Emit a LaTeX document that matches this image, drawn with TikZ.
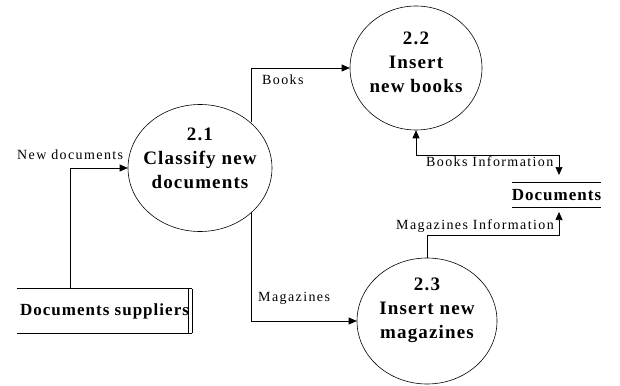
\documentclass[tikz,border=0pt]{standalone}
\usepackage{fontspec}
\setmainfont{Liberation Serif}
\newfontfamily\procfont[LetterSpace=6]{Liberation Serif}
\newfontfamily\lblfont[LetterSpace=10]{Liberation Serif}
\usetikzlibrary{arrows.meta,shapes.geometric}
\tikzset{
  proc/.style={draw, ellipse, inner sep=0pt, line width=0.6pt},
  ptext/.style={align=center, font=\procfont\bfseries\fontsize{19}{24}\selectfont, inner sep=0pt},
  lbl/.style={font=\lblfont\fontsize{14}{16}\selectfont, inner sep=0pt, anchor=west},
  store/.style={font=\procfont\bfseries\fontsize{17}{20}\selectfont, inner sep=0pt, minimum height=24pt},
  flow/.style={line width=0.7pt, -{Triangle[length=8pt,width=7pt]}},
  biflow/.style={line width=0.7pt, {Triangle[length=8pt,width=7pt]}-{Triangle[length=8pt,width=7pt]}},
  plain/.style={line width=0.7pt}
}
\begin{document}
\begin{tikzpicture}[x=1pt,y=-1pt]
\useasboundingbox (0,0) rectangle (620,385);
% processes
\node[proc, minimum width=144pt, minimum height=127pt] (c21) at (200,168) {};
\node[ptext] (t21) at ([yshift=10pt]c21.center) {2.1\\Classify new\\documents};
\node[proc, minimum width=132pt, minimum height=124pt] (c22) at (416,68) {};
\node[ptext] (t22) at ([yshift=6pt]c22.center) {2.2\\Insert\\new books};
\node[proc, minimum width=140pt, minimum height=126pt] (c23) at (427,321) {};
\node[ptext] (t23) at ([yshift=11pt]c23.center) {2.3\\Insert new\\magazines};
% data store
\node[store, minimum width=87pt] (docs) at (556.5,195) {Documents};
\draw[plain] (docs.north west) -- (docs.north east);
\draw[plain] (docs.south west) -- (docs.south east);
% external entity
\node[store, minimum width=175pt, minimum height=44pt] (ds) at (104.5,311) {Documents suppliers};
\draw[plain] (ds.north west) -- (ds.north east);
\draw[plain] (ds.south west) -- (ds.south east);
\draw[plain] ([xshift=-4pt]ds.north east) -- ([xshift=-4pt]ds.south east);
\draw[plain] (ds.north east) -- (ds.south east);
% coordinates
\coordinate (bstart) at (251,122);
\coordinate (mstart) at (251,213);
\coordinate (nd) at (70,289);
\coordinate (bi) at (559,155);
\coordinate (bitip) at (559,175);
\coordinate (mi) at (559,235);
\coordinate (mitip) at (559,212);
% flows
\draw[flow] (bstart) |- (c22.west);
\draw[flow] (mstart) |- (c23.west);
\draw[flow] (nd) |- (c21.west);
\draw[biflow] (c22.south) |- (bi) -- (bitip);
\draw[flow] (c23.north) |- (mi) -- (mitip);
% labels
\node[lbl] (lbooks) at (262,80) {Books};
\node[lbl] (lmag) at (258,298) {Magazines};
\node[lbl] (lnew) at (17,155) {New documents};
\node[lbl] (lbi) at (426,162) {Books Information};
\node[lbl] (lmi) at (396,226) {Magazines Information};
\end{tikzpicture}
\end{document}
